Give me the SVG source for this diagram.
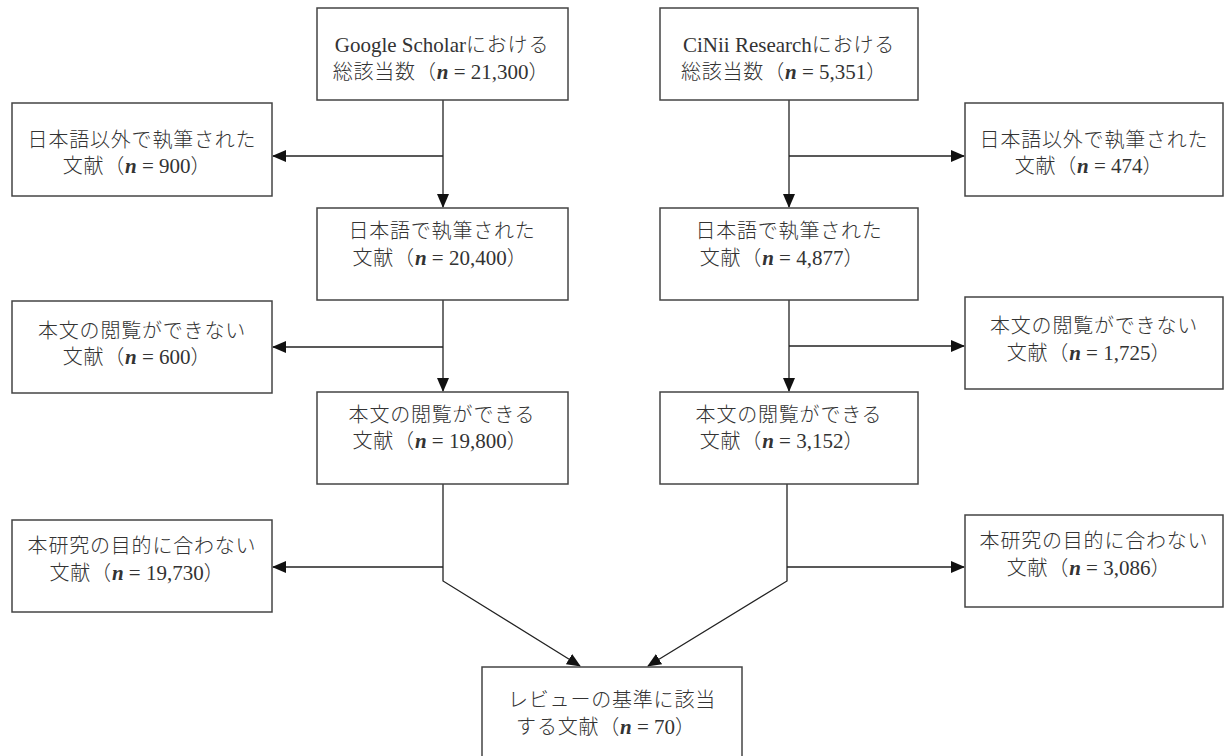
<svg xmlns="http://www.w3.org/2000/svg" width="1225" height="756" viewBox="0 0 1225 756">
<style>
.box{fill:#fff;stroke:#444;stroke-width:1.5}
.t{font-family:"Liberation Serif","Noto Sans CJK JP",serif;font-size:20px;fill:#333;text-anchor:middle;letter-spacing:0.8px;font-weight:300}
.l{font-family:"Liberation Serif",serif;letter-spacing:0;font-weight:normal;font-size:21px}
.n{font-family:"Liberation Serif",serif;font-style:italic;font-weight:bold;letter-spacing:0;font-size:21px}
.c{fill:none;stroke:#222;stroke-width:1.3}
</style>
<defs>
<marker id="ah" markerUnits="userSpaceOnUse" markerWidth="14" markerHeight="12" viewBox="0 0 14 12" refX="13" refY="6" orient="auto">
<path d="M0,0 L14,6 L0,12 Z" fill="#111"/>
</marker>
</defs>
<g id="connectors">
<line class="c" x1="443" y1="100" x2="443" y2="207" marker-end="url(#ah)"/>
<line class="c" x1="443" y1="156" x2="273" y2="156" marker-end="url(#ah)"/>
<line class="c" x1="443" y1="300" x2="443" y2="391" marker-end="url(#ah)"/>
<line class="c" x1="443" y1="347" x2="273" y2="347" marker-end="url(#ah)"/>
<line class="c" x1="443" y1="567" x2="273" y2="567" marker-end="url(#ah)"/>
<polyline class="c" points="443,484 443,581 580,666" marker-end="url(#ah)"/>
<line class="c" x1="789" y1="100" x2="789" y2="207" marker-end="url(#ah)"/>
<line class="c" x1="789" y1="156" x2="964" y2="156" marker-end="url(#ah)"/>
<line class="c" x1="789" y1="300" x2="789" y2="391" marker-end="url(#ah)"/>
<line class="c" x1="789" y1="346" x2="964" y2="346" marker-end="url(#ah)"/>
<line class="c" x1="787" y1="567" x2="964" y2="567" marker-end="url(#ah)"/>
<polyline class="c" points="787,484 787,581 648,666" marker-end="url(#ah)"/>
</g>
<g id="gs-total">
<rect class="box" x="317" y="8" width="251" height="92"/>
<text class="t" x="442" y="52"><tspan class="l">Google Scholar</tspan>における</text>
<text class="t" x="441" y="79">総該当数（<tspan class="n">n</tspan><tspan class="l"> = 21,300</tspan>）</text>
</g>
<g id="cinii-total">
<rect class="box" x="660" y="8" width="258" height="92"/>
<text class="t" x="789" y="52"><tspan class="l">CiNii Research</tspan>における</text>
<text class="t" x="784" y="79">総該当数（<tspan class="n">n</tspan><tspan class="l"> = 5,351</tspan>）</text>
</g>
<g id="gs-nonja">
<rect class="box" x="12" y="103" width="260" height="93"/>
<text class="t" x="142" y="147">日本語以外で執筆された</text>
<text class="t" x="137" y="173">文献（<tspan class="n">n</tspan><tspan class="l"> = 900</tspan>）</text>
</g>
<g id="cinii-nonja">
<rect class="box" x="965" y="103" width="258" height="93"/>
<text class="t" x="1094" y="147">日本語以外で執筆された</text>
<text class="t" x="1089" y="173">文献（<tspan class="n">n</tspan><tspan class="l"> = 474</tspan>）</text>
</g>
<g id="gs-ja">
<rect class="box" x="317" y="208" width="251" height="92"/>
<text class="t" x="442" y="238">日本語で執筆された</text>
<text class="t" x="440" y="265">文献（<tspan class="n">n</tspan><tspan class="l"> = 20,400</tspan>）</text>
</g>
<g id="cinii-ja">
<rect class="box" x="660" y="208" width="258" height="92"/>
<text class="t" x="789" y="238">日本語で執筆された</text>
<text class="t" x="782" y="265">文献（<tspan class="n">n</tspan><tspan class="l"> = 4,877</tspan>）</text>
</g>
<g id="gs-noread">
<rect class="box" x="12" y="301" width="260" height="92"/>
<text class="t" x="142" y="338">本文の閲覧ができない</text>
<text class="t" x="137" y="364">文献（<tspan class="n">n</tspan><tspan class="l"> = 600</tspan>）</text>
</g>
<g id="cinii-noread">
<rect class="box" x="965" y="297" width="258" height="92"/>
<text class="t" x="1094" y="333">本文の閲覧ができない</text>
<text class="t" x="1089" y="360">文献（<tspan class="n">n</tspan><tspan class="l"> = 1,725</tspan>）</text>
</g>
<g id="gs-read">
<rect class="box" x="317" y="392" width="251" height="92"/>
<text class="t" x="442" y="422">本文の閲覧ができる</text>
<text class="t" x="440" y="448">文献（<tspan class="n">n</tspan><tspan class="l"> = 19,800</tspan>）</text>
</g>
<g id="cinii-read">
<rect class="box" x="660" y="392" width="258" height="92"/>
<text class="t" x="789" y="422">本文の閲覧ができる</text>
<text class="t" x="782" y="448">文献（<tspan class="n">n</tspan><tspan class="l"> = 3,152</tspan>）</text>
</g>
<g id="gs-offtopic">
<rect class="box" x="12" y="520" width="260" height="92"/>
<text class="t" x="142" y="553">本研究の目的に合わない</text>
<text class="t" x="137" y="580">文献（<tspan class="n">n</tspan><tspan class="l"> = 19,730</tspan>）</text>
</g>
<g id="cinii-offtopic">
<rect class="box" x="965" y="515" width="258" height="92"/>
<text class="t" x="1094" y="548">本研究の目的に合わない</text>
<text class="t" x="1089" y="575">文献（<tspan class="n">n</tspan><tspan class="l"> = 3,086</tspan>）</text>
</g>
<g id="included">
<rect class="box" x="482" y="667" width="260" height="100"/>
<text class="t" x="612" y="707">レビューの基準に該当</text>
<text class="t" x="606" y="734">する文献（<tspan class="n">n</tspan><tspan class="l"> = 70</tspan>）</text>
</g>
</svg>
